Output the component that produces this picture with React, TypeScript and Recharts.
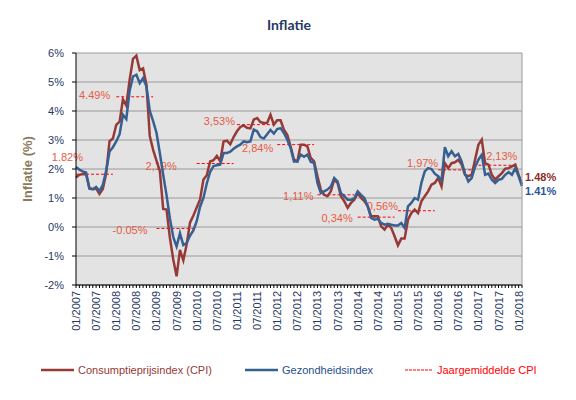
import React from 'react';
import { LineChart, Line, XAxis, YAxis, CartesianGrid, ReferenceLine, LabelList } from 'recharts';

const years = [2007, 2008, 2009, 2010, 2011, 2012, 2013, 2014, 2015, 2016, 2017, 2018];
const monthNames = ['01', '02', '03', '04', '05', '06', '07', '08', '09', '10', '11', '12'];

// consumptieprijsindex, jaar op jaar (%), jan 2007 - feb 2018
const cpi = [
	1.71, 1.80, 1.83, 1.82, 1.34, 1.30, 1.33, 1.14, 1.31, 1.85, 2.96, 3.05,
	3.52, 3.63, 4.40, 4.19, 5.08, 5.80, 5.91, 5.41, 5.47, 4.92, 3.14, 2.66,
	2.29, 1.93, 0.62, 0.60, -0.37, -1.12, -1.70, -0.79, -1.15, -0.60, 0.15, 0.40,
	0.67, 0.95, 1.64, 1.78, 2.26, 2.30, 2.45, 2.27, 2.95, 2.98, 2.85, 3.10,
	3.30, 3.45, 3.50, 3.42, 3.40, 3.70, 3.76, 3.62, 3.59, 3.59, 3.87, 3.53,
	3.68, 3.68, 3.36, 3.18, 2.78, 2.32, 2.26, 2.84, 2.84, 2.78, 2.38, 2.26,
	1.75, 1.29, 1.11, 1.06, 1.23, 1.63, 1.52, 1.06, 0.89, 0.66, 0.83, 0.94,
	1.17, 1.00, 0.89, 0.71, 0.37, 0.37, 0.37, 0.02, -0.09, 0.08, -0.03, -0.32,
	-0.63, -0.40, -0.40, 0.25, 0.48, 0.60, 0.48, 0.89, 1.06, 1.23, 1.46, 1.52,
	1.69, 1.40, 2.20, 2.03, 2.20, 2.23, 2.32, 2.15, 1.80, 1.75, 1.80, 2.32,
	2.84, 3.01, 2.20, 2.15, 1.80, 1.63, 1.75, 1.86, 2.01, 2.03, 2.09, 2.15,
	1.80, 1.48,
];

// gezondheidsindex, jaar op jaar (%)
const health = [
	2.07, 1.98, 1.92, 1.88, 1.32, 1.30, 1.38, 1.24, 1.45, 1.95, 2.60, 2.75,
	2.95, 3.20, 3.87, 3.72, 4.70, 5.19, 5.25, 4.96, 5.13, 4.85, 4.00, 3.65,
	3.25, 2.55, 1.80, 1.10, 0.30, -0.35, -0.67, -0.21, -0.62, -0.55, -0.30, -0.12,
	0.20, 0.70, 1.00, 1.50, 1.90, 2.10, 2.13, 2.15, 2.55, 2.55, 2.60, 2.70,
	2.78, 2.84, 2.95, 2.92, 2.95, 3.36, 3.30, 3.10, 3.05, 3.20, 3.35, 3.22,
	3.38, 3.41, 3.24, 3.01, 2.72, 2.26, 2.26, 2.50, 2.42, 2.50, 2.25, 2.20,
	1.52, 1.17, 1.23, 1.29, 1.40, 1.69, 1.57, 1.17, 1.06, 0.94, 0.94, 1.00,
	1.23, 1.11, 1.00, 0.71, 0.31, 0.25, 0.28, 0.14, 0.08, 0.11, 0.08, 0.05,
	0.05, 0.14, -0.03, 0.71, 0.83, 1.00, 0.94, 1.52, 1.92, 2.03, 2.00, 1.84,
	1.75, 1.60, 2.75, 2.44, 2.61, 2.44, 2.52, 2.26, 1.84, 1.57, 1.69, 2.07,
	2.32, 2.49, 1.80, 1.84, 1.63, 1.52, 1.63, 1.66, 1.80, 1.89, 1.80, 2.03,
	1.75, 1.41,
];

// jaargemiddelde CPI 2007-2017
const yearAvg = [1.82, 4.49, -0.05, 2.19, 3.53, 2.84, 1.11, 0.34, 0.56, 1.97, 2.13];
const yearAvgText = ['1.82%', '4.49%', '-0.05%', '2,19%', '3,53%', '2,84%', '1,11%', '0,34%', '0,56%', '1,97%', '2,13%'];
// label placement relative to the left end of each dashed segment
const avgLabelShift = [
	[7, -13], [-6, 2], [-9, 6], [-20, 7], [-2, 0], [-4, 7],
	[-4, 5], [-5, 5], [0, -1], [0, -3], [39, -5],
];

const yTicks = [-2, -1, 0, 1, 2, 3, 4, 5, 6];

const months = years.flatMap((y) => monthNames.map((m) => `${m}/${y}`)).slice(0, cpi.length);
const data = months.map((month, i) => ({ month, cpi: cpi[i], health: health[i] }));

const FONT = "'Liberation Sans', Arial, sans-serif";
const RED = '#963A37';
const BLUE = '#376092';
const NAVY = '#1F3864';
const AVG_TEXT = '#E65B45';

function MonthTick(props: any) {
	const { x, y, payload, index } = props;
	if (index % 6 !== 0) return null;
	return (
		<text
			transform={`translate(${x},${y}) rotate(-90)`}
			x={-1}
			y={4}
			textAnchor="end"
			fill={NAVY}
			fontSize={11}
			fontFamily={FONT}
		>
			{payload.value}
		</text>
	);
}

function YTitle(props: any) {
	const vb = props.viewBox;
	if (!vb) return null;
	const cx = vb.x + 27;
	const cy = vb.y + vb.height / 2;
	return (
		<text
			transform={`translate(${cx},${cy}) rotate(-90)`}
			textAnchor="middle"
			dominantBaseline="central"
			fill="#8A7A5C"
			fontSize={13}
			fontWeight="bold"
			fontFamily={FONT}
		>
			Inflatie (%)
		</text>
	);
}

function AvgLabel(props: any) {
	const { viewBox, text, dx, dy } = props;
	if (!viewBox) return null;
	return (
		<text x={viewBox.x + dx} y={viewBox.y + dy} textAnchor="end" fill={AVG_TEXT} fontSize={11} fontFamily={FONT}>
			{text}
		</text>
	);
}

const lastIndex = data.length - 1;

function endLabel(color: string, dy: number) {
	return (p: any) => {
		if (p.index !== lastIndex) return null;
		return (
			<text x={p.x + 3} y={p.y + dy} fill={color} fontSize={11} fontWeight="bold" fontFamily={FONT}>
				{`${Number(p.value).toFixed(2)}%`}
			</text>
		);
	};
}

const legendItems = [
	{ name: 'Consumptieprijsindex (CPI)', color: RED, text: RED, dashed: false, left: 41, width: 33 },
	{ name: 'Gezondheidsindex', color: BLUE, text: '#254F8C', dashed: false, left: 245, width: 33 },
	{ name: 'Jaargemiddelde CPI', color: '#FF0000', text: '#FF0000', dashed: true, left: 405, width: 28 },
];

export default function InflatieChart() {
	return (
		<div style={{ position: 'absolute', left: 0, top: 0, width: 576, height: 400, background: '#fff' }}>
			<div
				style={{
					position: 'absolute',
					top: 16,
					left: 0,
					width: 578,
					textAlign: 'center',
					fontFamily: 'Lato, sans-serif',
					fontWeight: 'bold',
					fontSize: 14,
					color: NAVY,
				}}
			>
				Inflatie
			</div>
			<LineChart width={576} height={400} data={data} margin={{ top: 53, right: 53, bottom: 65, left: 0 }}>
				<CartesianGrid vertical={false} stroke="#9A9A9A" fill="#E3E3E3" />
				<XAxis
					dataKey="month"
					interval={0}
					height={50}
					tickSize={3}
					tickMargin={2}
					axisLine={{ stroke: '#000' }}
					tickLine={{ stroke: '#000' }}
					tick={<MonthTick />}
				/>
				<YAxis
					domain={[-2, 6]}
					ticks={yTicks}
					interval={0}
					width={76}
					tickSize={4}
					tickMargin={8}
					tickFormatter={(v) => `${v}%`}
					axisLine={{ stroke: '#000' }}
					tickLine={{ stroke: '#000' }}
					tick={{ fill: NAVY, fontSize: 11, fontFamily: FONT }}
					label={<YTitle />}
				/>
				<YAxis
					yAxisId="frame"
					orientation="right"
					domain={[-2, 6]}
					width={1}
					tick={false}
					tickLine={false}
					axisLine={{ stroke: '#9A9A9A' }}
				/>
				{yearAvg.map((v, k) => (
					<ReferenceLine
						key={k}
						segment={[
							{ x: months[k * 12], y: v },
							{ x: months[k * 12 + 11], y: v },
						]}
						stroke="#FF0000"
						strokeWidth={1}
						strokeDasharray="3 2"
						label={<AvgLabel text={yearAvgText[k]} dx={avgLabelShift[k][0]} dy={avgLabelShift[k][1]} />}
					/>
				))}
				<Line
					dataKey="cpi"
					stroke={RED}
					strokeWidth={2.5}
					dot={false}
					activeDot={false}
					isAnimationActive={false}
				>
					<LabelList dataKey="cpi" content={endLabel('#8B2E2B', -3)} />
				</Line>
				<Line
					dataKey="health"
					stroke={BLUE}
					strokeWidth={2.5}
					dot={false}
					activeDot={false}
					isAnimationActive={false}
				>
					<LabelList dataKey="health" content={endLabel('#2A5597', 9)} />
				</Line>
			</LineChart>
			{legendItems.map((item) => (
				<div
					key={item.name}
					style={{
						position: 'absolute',
						top: 364,
						left: item.left,
						display: 'flex',
						alignItems: 'center',
						fontFamily: FONT,
						fontSize: 11,
						color: item.text,
						whiteSpace: 'nowrap',
					}}
				>
					<svg width={item.width} height={10} style={{ marginRight: 4 }}>
						<line
							x1={0}
							x2={item.width}
							y1={5}
							y2={5}
							stroke={item.color}
							strokeWidth={item.dashed ? 1 : 2.5}
							strokeDasharray={item.dashed ? '3 1' : undefined}
						/>
					</svg>
					{item.name}
				</div>
			))}
		</div>
	);
}
